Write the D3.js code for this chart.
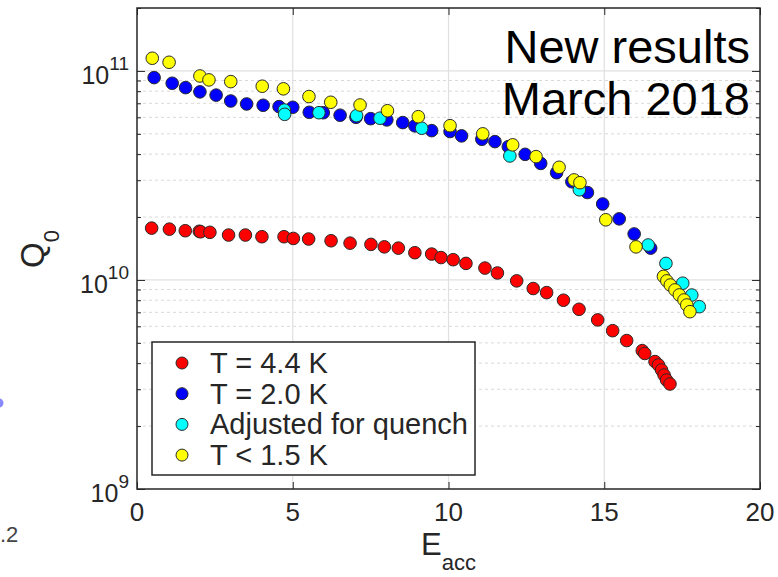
<!DOCTYPE html>
<html>
<head>
<meta charset="utf-8">
<script src="https://cdn.jsdelivr.net/npm/d3@7"></script>
<style>
  html, body { margin: 0; padding: 0; background: #fff; }
  svg { display: block; font-family: "Liberation Sans", Arial, Helvetica, sans-serif; }
</style>
</head>
<body>
<svg id="chart" width="778" height="577"></svg>
<script>
// Q0 versus accelerating gradient, four measurement sets
const e44 = [0.47, 1.04, 1.55, 2.0, 2.04, 2.34, 2.94, 3.48, 4.01, 4.72, 5.02, 5.51, 6.23, 6.84, 7.51, 7.94, 8.39, 8.92, 9.46, 9.76, 10.15, 10.56, 11.17, 11.57, 12.19, 12.72, 13.15, 13.69, 14.19, 14.79, 15.27, 15.72, 16.22, 16.3, 16.63, 16.74, 16.84, 16.92, 17.0, 17.11];
const q44 = [1.77e10, 1.75e10, 1.72e10, 1.71e10, 1.70e10, 1.69e10, 1.64e10, 1.64e10, 1.61e10, 1.61e10, 1.58e10, 1.57e10, 1.54e10, 1.50e10, 1.48e10, 1.44e10, 1.42e10, 1.35e10, 1.33e10, 1.28e10, 1.25e10, 1.20e10, 1.14e10, 1.08e10, 9.9e9, 9.1e9, 8.7e9, 8.0e9, 7.24e9, 6.44e9, 5.72e9, 5.13e9, 4.59e9, 4.45e9, 4.07e9, 3.92e9, 3.71e9, 3.51e9, 3.32e9, 3.18e9];

const e20 = [0.55, 1.13, 1.56, 2.02, 2.54, 3.01, 3.52, 4.05, 4.56, 5.0, 5.53, 5.98, 6.52, 7.03, 7.5, 8.02, 8.53, 8.92, 9.46, 10.05, 10.42, 11.07, 11.49, 11.92, 12.46, 12.96, 13.47, 13.96, 14.46, 14.95, 15.48, 15.96, 16.49];
const q20 = [9.29e10, 8.73e10, 8.32e10, 7.94e10, 7.66e10, 7.18e10, 6.95e10, 6.85e10, 6.75e10, 6.70e10, 6.34e10, 6.31e10, 6.14e10, 6.00e10, 5.91e10, 5.83e10, 5.66e10, 5.46e10, 5.18e10, 5.13e10, 4.89e10, 4.71e10, 4.59e10, 4.34e10, 3.99e10, 3.61e10, 3.26e10, 2.95e10, 2.62e10, 2.31e10, 1.96e10, 1.66e10, 1.42e10];

const eAdj = [4.73, 4.74, 5.84, 7.05, 7.8, 9.14, 11.97, 14.2, 16.41, 16.98, 17.52, 17.81, 18.05];
const qAdj = [6.5e10, 6.2e10, 6.31e10, 6.11e10, 5.94e10, 5.32e10, 3.92e10, 2.70e10, 1.47e10, 1.20e10, 9.65e9, 8.47e9, 7.45e9];

const eLow = [0.49, 1.03, 2.02, 2.31, 3.01, 4.02, 4.7, 5.52, 6.22, 7.16, 8.04, 9.03, 10.05, 11.1, 12.06, 12.81, 13.55, 14.03, 14.22, 15.05, 16.02, 16.9, 17.01, 17.12, 17.27, 17.41, 17.56, 17.65, 17.75];
const qLow = [1.15e11, 1.10e11, 9.46e10, 9.06e10, 8.89e10, 8.45e10, 8.21e10, 7.54e10, 7.08e10, 6.87e10, 6.45e10, 6.04e10, 5.47e10, 5.00e10, 4.43e10, 3.89e10, 3.46e10, 3.01e10, 2.92e10, 1.94e10, 1.44e10, 1.04e10, 9.9e9, 9.46e9, 8.96e9, 8.48e9, 8.02e9, 7.59e9, 7.05e9];

const xTicks = [0, 5, 10, 15, 20];
const yDecades = [9, 10, 11];
const seriesNames = ["T = 4.4 K", "T = 2.0 K", "Adjusted for quench", "T < 1.5 K"];
const seriesColors = ["#ff0000", "#0000ff", "#00ffff", "#ffff00"];

const svg = d3.select("#chart");
const plot = { left: 137, right: 760, top: 8, bottom: 489 };
const ink = "#262626";

const x = d3.scaleLinear().domain([0, 20]).range([plot.left, plot.right]);
const y = d3.scaleLog().domain([1e9, 2e11]).range([plot.bottom, plot.top]);

// stray remnants of a neighbouring panel at the left edge
svg.append("circle").attr("cx", -1).attr("cy", 403).attr("r", 4.5)
  .attr("fill", "#6a6aff").attr("opacity", 0.8);
svg.append("text").attr("x", 0).attr("y", 542).attr("font-size", 22)
  .attr("fill", "#444").text(".2");

// grid
const minorVals = [];
[9, 10].forEach(d => { for (let m = 2; m <= 9; m++) minorVals.push(m * Math.pow(10, d)); });
minorVals.push(2e11);
const grid = svg.append("g");
grid.selectAll("line.minor").data(minorVals.filter(v => v < 2e11)).join("line")
  .attr("x1", plot.left).attr("x2", plot.right)
  .attr("y1", d => y(d)).attr("y2", d => y(d))
  .attr("stroke", "#d9d9d9").attr("stroke-width", 1).attr("stroke-dasharray", "3,3");
grid.selectAll("line.majy").data([1e10, 1e11]).join("line")
  .attr("x1", plot.left).attr("x2", plot.right)
  .attr("y1", d => y(d)).attr("y2", d => y(d))
  .attr("stroke", "#e0e0e0").attr("stroke-width", 1.2);
grid.selectAll("line.majx").data([5, 10, 15]).join("line")
  .attr("x1", d => x(d)).attr("x2", d => x(d))
  .attr("y1", plot.top).attr("y2", plot.bottom)
  .attr("stroke", "#e0e0e0").attr("stroke-width", 1.2);

// axes with inward ticks on all four sides
const axB = d3.axisBottom(x).tickValues(xTicks).tickSize(-7).tickFormat("");
const axT = d3.axisTop(x).tickValues(xTicks).tickSize(-7).tickFormat("");
svg.append("g").attr("transform", `translate(0,${plot.bottom})`).call(axB);
svg.append("g").attr("transform", `translate(0,${plot.top})`).call(axT);
const majors = yDecades.map(d => Math.pow(10, d));
const axL = d3.axisLeft(y).tickValues(majors).tickSize(-8).tickFormat("");
const axR = d3.axisRight(y).tickValues(majors).tickSize(-8).tickFormat("");
const axLm = d3.axisLeft(y).tickValues(minorVals).tickSize(-4).tickFormat("");
const axRm = d3.axisRight(y).tickValues(minorVals).tickSize(-4).tickFormat("");
[axL, axLm].forEach(a => svg.append("g").attr("transform", `translate(${plot.left},0)`).call(a));
[axR, axRm].forEach(a => svg.append("g").attr("transform", `translate(${plot.right},0)`).call(a));
svg.selectAll(".domain").remove();
svg.selectAll(".tick line").attr("stroke", ink).attr("stroke-width", 1);

// frame
svg.append("rect").attr("x", plot.left).attr("y", plot.top)
  .attr("width", plot.right - plot.left).attr("height", plot.bottom - plot.top)
  .attr("fill", "none").attr("stroke", ink).attr("stroke-width", 1.5);

// tick labels
svg.append("g").selectAll("text").data(xTicks).join("text")
  .attr("x", d => x(d)).attr("y", plot.bottom + 32)
  .attr("text-anchor", "middle").attr("font-size", 26).attr("fill", ink)
  .text(d => d);
const yl = svg.append("g").selectAll("text").data(yDecades).join("text")
  .attr("x", 129).attr("y", d => y(Math.pow(10, d)) + 13)
  .attr("text-anchor", "end").attr("fill", ink);
yl.append("tspan").attr("font-size", 25).text("10");
yl.append("tspan").attr("font-size", 19).attr("dy", -14).text(d => d);

// axis titles
const xt = svg.append("text").attr("x", 421).attr("y", 555).attr("fill", ink);
xt.append("tspan").attr("font-size", 31).text("E");
xt.append("tspan").attr("font-size", 22).attr("dy", 15).text("acc");
const yt = svg.append("text").attr("transform", "translate(44,249) rotate(-90)")
  .attr("text-anchor", "middle").attr("fill", ink);
yt.append("tspan").attr("font-size", 33).text("Q");
yt.append("tspan").attr("font-size", 22).attr("dy", 15).text("0");

// data
const sets = [
  [e44, q44, seriesColors[0]],
  [e20, q20, seriesColors[1]],
  [eAdj, qAdj, seriesColors[2]],
  [eLow, qLow, seriesColors[3]]
];
const pts = svg.append("g");
sets.forEach(([es, qs, c]) => {
  pts.append("g").selectAll("circle").data(es.map((e, i) => [e, qs[i]])).join("circle")
    .attr("cx", d => x(d[0])).attr("cy", d => y(d[1])).attr("r", 6.3)
    .attr("fill", c).attr("stroke", "#2b2b2b").attr("stroke-width", 1);
});

// annotation
const note = svg.append("g").attr("fill", "#000").attr("font-size", 47).attr("text-anchor", "end");
note.append("text").attr("x", 750).attr("y", 63).text("New results");
note.append("text").attr("x", 750).attr("y", 115).text("March 2018");

// legend
const lg = svg.append("g");
lg.append("rect").attr("x", 152).attr("y", 342).attr("width", 323).attr("height", 133)
  .attr("fill", "#fff").attr("stroke", ink).attr("stroke-width", 1.5);
const rows = lg.selectAll("g.row").data(seriesNames).join("g")
  .attr("transform", (d, i) => `translate(0,${363 + i * 30.7})`);
rows.append("circle").attr("cx", 182).attr("cy", 0).attr("r", 6)
  .attr("fill", (d, i) => seriesColors[i]).attr("stroke", "#2b2b2b").attr("stroke-width", 1);
rows.append("text").attr("x", 210).attr("y", 10).attr("font-size", 29).attr("fill", ink)
  .text(d => d);
</script>
</body>
</html>
